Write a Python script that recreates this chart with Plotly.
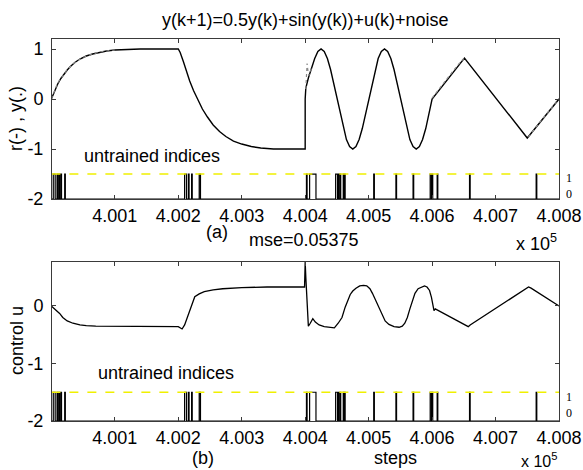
import plotly.graph_objects as go

X0 = 400000

# ---- top panel: reference r (solid) and output y (dotted), step offset / value
r_t = [0, 3, 6, 10, 15, 20, 25, 30, 37, 45, 55, 65, 75, 87, 100, 120, 140, 200,
       203, 208, 213, 218, 224, 230, 238, 246, 255, 265, 275, 287, 300, 315, 330, 350, 400,
       400, 401, 405, 410, 415, 420, 425, 430, 435, 440, 445, 450, 455, 460, 465, 470, 475,
       480, 485, 490, 495, 500, 505, 510, 515, 520, 525, 530, 535, 540, 545, 550, 555,
       560, 565, 570, 575, 580, 585, 590, 595, 600, 651, 750, 800]
r_v = [0.0, 0.1, 0.2, 0.3, 0.41, 0.5, 0.58, 0.65, 0.73, 0.8, 0.86, 0.9, 0.93, 0.96, 0.98, 0.99, 1.0, 1.0,
       0.93, 0.75, 0.55, 0.36, 0.17, 0.0, -0.2, -0.36, -0.52, -0.65, -0.75, -0.84, -0.9, -0.95, -0.98, -1.0, -1.0,
       0.0, 0.22, 0.42, 0.62, 0.81, 0.95, 1.0, 0.95, 0.81, 0.59, 0.31, 0.0, -0.31, -0.59, -0.81, -0.95, -1.0,
       -0.95, -0.81, -0.59, -0.31, 0.0, 0.31, 0.59, 0.81, 0.95, 1.0, 0.95, 0.81, 0.59, 0.31, 0.0, -0.31,
       -0.59, -0.81, -0.95, -1.0, -0.95, -0.81, -0.59, -0.31, 0.0, 0.82, -0.78, 0.0]

# output y, drawn only where it separates visibly from r (None = gap)
y_t = [0, 4, 8, 12, 18, 24, 30, 40, 52, 64, 80, 100, None,
       401, 402, 403, 404, 406, 410, None,
       600, 610, 620, 630, 640, 650, None,
       752, 760, 770, 780, 790, 800]
y_v = [0.0, 0.15, 0.26, 0.36, 0.47, 0.57, 0.65, 0.76, 0.84, 0.9, 0.95, 0.98, None,
       0.2, 0.45, 0.71, 0.6, 0.47, 0.62, None,
       0.02, 0.19, 0.35, 0.51, 0.67, 0.81, None,
       -0.76, -0.62, -0.46, -0.31, -0.15, 0.01]

# ---- bottom panel: control u
u_t = [0, 3, 8, 13, 18, 25, 34, 45, 55, 70, 200, 203, 206, 210, 214, 218, 222, 226, 233, 241,
       255, 270, 300, 340, 399, 400, 401, 403, 405, 408, 412, 416, 422, 430, 446, 452, 458, 463,
       467, 471, 475, 480, 486, 492, 497, 502, 506, 511, 516, 521, 526, 532, 540, 548, 553, 557,
       561, 565, 569, 573, 578, 583, 588, 592, 596, 599, 601, 603, 605, 657, 660, 752, 756, 800]
u_v = [0.0, -0.03, -0.07, -0.13, -0.2, -0.26, -0.3, -0.33, -0.34, -0.35, -0.36, -0.38, -0.4, -0.33,
       -0.2, -0.08, 0.05, 0.16, 0.21, 0.25, 0.28, 0.3, 0.32, 0.33, 0.33, 0.77, 0.5, -0.1, -0.35, -0.3,
       -0.22, -0.28, -0.33, -0.36, -0.38, -0.3, -0.2, -0.02, 0.1, 0.2, 0.26, 0.31, 0.35, 0.36, 0.35,
       0.3, 0.22, 0.1, -0.05, -0.17, -0.26, -0.32, -0.36, -0.37, -0.35, -0.3, -0.2, -0.05, 0.1, 0.22,
       0.3, 0.33, 0.35, 0.33, 0.27, 0.15, 0.0, -0.08, -0.05, -0.36, -0.33, 0.33, 0.31, 0.0]

# ---- untrained indices (step offsets flagged 1)
untrained = [3, 4, 5, 9, 12, 15, 21, 210, 211, 212, 216, 221, 233, 234,
             402, 407, 408, 409, 410, 411, 412, 413, 414, 415, 416,
             448, 449, 450, 452, 455, 460, 462, 508, 543, 570, 597, 598, 600, 608, 659, 764]
n_steps = 800

xtick_vals = [400100, 400200, 400300, 400400, 400500, 400600, 400700, 400800]
xtick_text = ["4.001", "4.002", "4.003", "4.004", "4.005", "4.006", "4.007", "4.008"]
ytick_top = [-2, -1, 0, 1]
ytick_top_text = ["-2", "-1", "0", "1"]
ytick_bot = [-2, -1, 0]
ytick_bot_text = ["-2", "-1", "0"]

FONT = "Liberation Sans, Arial, sans-serif"
FS = 18
AX = "#3a3a3a"

steps = list(range(0, n_steps + 1))
uset = set(untrained)
flag_x = [X0 + s for s in steps]
flag_y = [-2 + 0.5 * (1 if s in uset else 0) for s in steps]

def sx(ts):
    return [None if t is None else X0 + t for t in ts]

fig = go.Figure()
fig.add_trace(go.Scatter(x=sx(r_t), y=r_v, mode="lines",
                         line=dict(color="black", width=1.4), xaxis="x", yaxis="y"))
fig.add_trace(go.Scatter(x=sx(y_t), y=y_v, mode="lines", connectgaps=False,
                         line=dict(color="#8a8a8a", width=1.2, dash="dot"), xaxis="x", yaxis="y"))
fig.add_trace(go.Scatter(x=sx(u_t), y=u_v, mode="lines",
                         line=dict(color="black", width=1.3), xaxis="x2", yaxis="y2"))
for xa, ya in (("x", "y"), ("x2", "y2")):
    fig.add_trace(go.Scatter(x=flag_x, y=flag_y, mode="lines", line_shape="hv",
                             line=dict(color="black", width=1.2), xaxis=xa, yaxis=ya))
    fig.add_trace(go.Scatter(x=[X0, X0 + n_steps], y=[-1.5, -1.5], mode="lines",
                             line=dict(color="#f0f000", width=1.5, dash="dash"), xaxis=xa, yaxis=ya))

axcommon = dict(showline=True, linecolor=AX, linewidth=1, mirror="allticks", ticks="inside",
                ticklen=4, tickcolor=AX, showgrid=False, zeroline=False, automargin=False,
                ticklabeloverflow="allow",
                tickfont=dict(family=FONT, size=FS, color="black"))
xr = [X0 + 1, X0 + n_steps]
fig.update_layout(
    width=583, height=470, showlegend=False,
    paper_bgcolor="white", plot_bgcolor="white",
    margin=dict(l=52, r=24, t=39, b=49, autoexpand=False),
    xaxis=dict(domain=[0, 1], range=xr, tickvals=xtick_vals, ticktext=xtick_text,
               anchor="y", **axcommon),
    yaxis=dict(domain=[0.581, 1], range=[-2, 1.2], tickvals=ytick_top, ticktext=ytick_top_text,
               ticklabelstandoff=4, anchor="x", **axcommon),
    xaxis2=dict(domain=[0, 1], range=xr, tickvals=xtick_vals, ticktext=xtick_text,
                anchor="y2", **axcommon),
    yaxis2=dict(domain=[0, 0.417], range=[-2, 0.77], tickvals=ytick_bot, ticktext=ytick_bot_text,
                ticklabelstandoff=4, anchor="x2", **axcommon),
)

def pa(text, x, y, size=FS, **kw):
    d = dict(text=text, x=x, y=y, xref="paper", yref="paper", showarrow=False,
             font=dict(family=FONT, size=size, color="black"), xanchor="center", yanchor="middle")
    d.update(kw)
    fig.add_annotation(**d)

pa("y(k+1)=0.5y(k)+sin(y(k))+u(k)+noise", 0.5, 1.0497)
pa("(a)", 0.3249, 0.4955)
pa("mse=0.05375", 0.497, 0.4738)
pa("x 10<sup>5</sup>", 1.0, 0.466, xanchor="right")
pa("(b)", 0.2978, -0.0969)
pa("steps", 0.6785, -0.0969)
pa("x 10<sup>5</sup>", 1.0, -0.101, size=16, xanchor="right")
pa("r(-) , y(.)", -0.071, 0.7906, textangle=-90)
pa("control u", -0.069, 0.2094, textangle=-90)

for ya, xu, yu, y1, y0 in (("y", X0 + 49, -1.13, -1.57, -1.89), ("y2", X0 + 71, -1.174, -1.58, -1.86)):
    xa = "x" if ya == "y" else "x2"
    fig.add_annotation(text="untrained indices", x=xu, y=yu, xref=xa, yref=ya, showarrow=False,
                       xanchor="left", yanchor="middle", font=dict(family=FONT, size=FS, color="black"))
    for lab, yv in (("1", y1), ("0", y0)):
        fig.add_annotation(text=lab, x=1.02, y=yv, xref="paper", yref=ya, showarrow=False,
                           xanchor="center", yanchor="middle",
                           font=dict(family="Liberation Serif, serif", size=12, color="black"))

fig.write_html("out.html", config={"displayModeBar": False},
               post_script="document.body.style.margin='0px';")
